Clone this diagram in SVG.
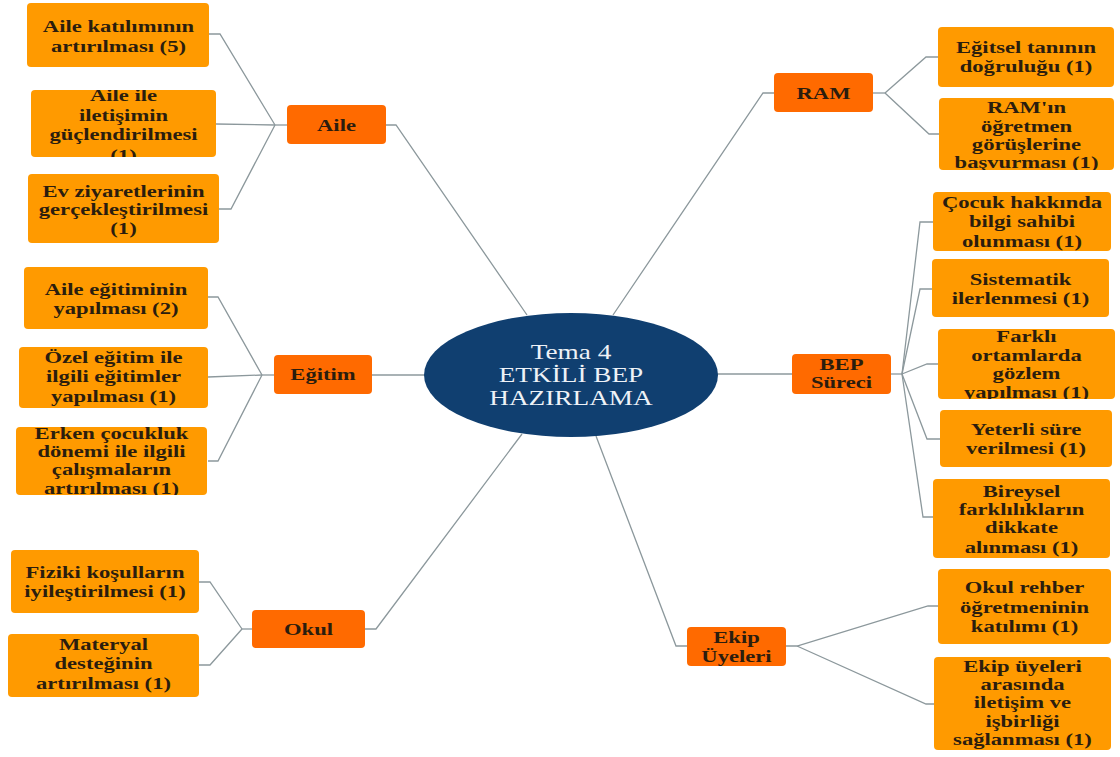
<svg xmlns="http://www.w3.org/2000/svg" width="1120" height="757" viewBox="0 0 1120 757">
<style>
.leaf{fill:#ff9a00}
.cat{fill:#ff6a00}
.t{font-family:"Liberation Serif","Times New Roman",serif;font-weight:bold;font-size:17px;fill:#2b1d0e;text-anchor:middle}
.c{font-family:"Liberation Serif","Times New Roman",serif;font-size:20.5px;fill:#eef2f7;text-anchor:middle}
.ln{fill:none;stroke:#8c989c;stroke-width:1.3}
</style>
<defs>
<clipPath id="cpA2"><rect x="31" y="90" width="185" height="67"/></clipPath>
<clipPath id="cpE3"><rect x="16" y="427" width="191" height="68"/></clipPath>
<clipPath id="cpB3"><rect x="938" y="329" width="177" height="70"/></clipPath>
<clipPath id="cpR2"><rect x="939" y="98" width="175" height="72"/></clipPath>
<clipPath id="cpK2"><rect x="934" y="657" width="177" height="93"/></clipPath>
</defs>
<rect width="1120" height="757" fill="#ffffff"/>
<g id="connectors" class="ln">
<path d="M209,34 H220 L275,125"/>
<path d="M216,124 L275,125"/>
<path d="M219,209 H231 L275,125"/>
<path d="M275,125 H287"/>
<path d="M386,125 H396 L527,315"/>
<path d="M208,297 H218 L262,375"/>
<path d="M208,377 L262,375"/>
<path d="M208,461 H218 L262,375"/>
<path d="M262,375 H274"/>
<path d="M372,375 H425"/>
<path d="M199,582 H210 L242,629"/>
<path d="M199,665 H210 L242,629"/>
<path d="M242,629 H252"/>
<path d="M365,629 H376 L522,434"/>
<path d="M938,57 H926 L885,93"/>
<path d="M939,134 H929 L885,93"/>
<path d="M873,93 H885"/>
<path d="M774,93 H763 L613,315"/>
<path d="M891,374 H902"/>
<path d="M902,374 L920,222 H933"/>
<path d="M902,374 L920,289 H932"/>
<path d="M902,374 L927,364 H938"/>
<path d="M902,374 L927,439 H940"/>
<path d="M902,374 L923,517 H933"/>
<path d="M792,374 H717"/>
<path d="M786,646 H797 L928,606 H938"/>
<path d="M797,646 L926,704 H934"/>
<path d="M687,646 H676 L596,436"/>
</g>
<g id="center">
<ellipse cx="571" cy="375" rx="147" ry="62" fill="#103f70"/>
<text class="c" transform="translate(571,0) scale(1.33,1)"><tspan x="0" y="359">Tema 4</tspan><tspan x="0" y="382">ETKİLİ BEP</tspan><tspan x="0" y="405">HAZIRLAMA</tspan></text>
</g>
<g id="aile">
<rect class="cat" x="287" y="105" width="99" height="39" rx="4"/>
<text class="t" transform="translate(336.5,0) scale(1.33,1)"><tspan x="0" y="131">Aile</tspan></text>
</g>
<g id="aile-1">
<rect class="leaf" x="27" y="3" width="182" height="64" rx="4"/>
<text class="t" transform="translate(118.5,0) scale(1.33,1)"><tspan x="0" y="32">Aile katılımının</tspan><tspan x="0" y="52">artırılması (5)</tspan></text>
</g>
<g id="aile-2">
<rect class="leaf" x="31" y="90" width="185" height="67" rx="4"/>
<g clip-path="url(#cpA2)"><text class="t" transform="translate(123.5,0) scale(1.33,1)"><tspan x="0" y="101">Aile ile</tspan><tspan x="0" y="121">iletişimin</tspan><tspan x="0" y="140">güçlendirilmesi</tspan><tspan x="0" y="161">(1)</tspan></text></g>
</g>
<g id="aile-3">
<rect class="leaf" x="28" y="174" width="191" height="69" rx="4"/>
<text class="t" transform="translate(123.5,0) scale(1.33,1)"><tspan x="0" y="197">Ev ziyaretlerinin</tspan><tspan x="0" y="215">gerçekleştirilmesi</tspan><tspan x="0" y="234">(1)</tspan></text>
</g>
<g id="egitim">
<rect class="cat" x="274" y="355" width="98" height="39" rx="4"/>
<text class="t" transform="translate(323,0) scale(1.33,1)"><tspan x="0" y="380">Eğitim</tspan></text>
</g>
<g id="egitim-1">
<rect class="leaf" x="24" y="267" width="184" height="62" rx="4"/>
<text class="t" transform="translate(116,0) scale(1.33,1)"><tspan x="0" y="295">Aile eğitiminin</tspan><tspan x="0" y="314">yapılması (2)</tspan></text>
</g>
<g id="egitim-2">
<rect class="leaf" x="19" y="347" width="189" height="61" rx="4"/>
<text class="t" transform="translate(113.5,0) scale(1.33,1)"><tspan x="0" y="363">Özel eğitim ile</tspan><tspan x="0" y="382">ilgili eğitimler</tspan><tspan x="0" y="402">yapılması (1)</tspan></text>
</g>
<g id="egitim-3">
<rect class="leaf" x="16" y="427" width="191" height="68" rx="4"/>
<g clip-path="url(#cpE3)"><text class="t" transform="translate(111.5,0) scale(1.33,1)"><tspan x="0" y="439">Erken çocukluk</tspan><tspan x="0" y="457">dönemi ile ilgili</tspan><tspan x="0" y="475">çalışmaların</tspan><tspan x="0" y="494">artırılması (1)</tspan></text></g>
</g>
<g id="okul">
<rect class="cat" x="252" y="610" width="113" height="38" rx="4"/>
<text class="t" transform="translate(308.5,0) scale(1.33,1)"><tspan x="0" y="635">Okul</tspan></text>
</g>
<g id="okul-1">
<rect class="leaf" x="11" y="550" width="188" height="63" rx="4"/>
<text class="t" transform="translate(105,0) scale(1.33,1)"><tspan x="0" y="578">Fiziki koşulların</tspan><tspan x="0" y="597">iyileştirilmesi (1)</tspan></text>
</g>
<g id="okul-2">
<rect class="leaf" x="8" y="634" width="191" height="63" rx="4"/>
<text class="t" transform="translate(103.5,0) scale(1.33,1)"><tspan x="0" y="650">Materyal</tspan><tspan x="0" y="669">desteğinin</tspan><tspan x="0" y="689">artırılması (1)</tspan></text>
</g>
<g id="ram">
<rect class="cat" x="774" y="73" width="99" height="39" rx="4"/>
<text class="t" transform="translate(823.5,0) scale(1.33,1)"><tspan x="0" y="99">RAM</tspan></text>
</g>
<g id="ram-1">
<rect class="leaf" x="938" y="27" width="176" height="60" rx="4"/>
<text class="t" transform="translate(1026,0) scale(1.33,1)"><tspan x="0" y="53">Eğitsel tanının</tspan><tspan x="0" y="72">doğruluğu (1)</tspan></text>
</g>
<g id="ram-2">
<rect class="leaf" x="939" y="98" width="175" height="72" rx="4"/>
<g clip-path="url(#cpR2)"><text class="t" transform="translate(1026.5,0) scale(1.33,1)"><tspan x="0" y="113">RAM'ın</tspan><tspan x="0" y="132">öğretmen</tspan><tspan x="0" y="150">görüşlerine</tspan><tspan x="0" y="168">başvurması (1)</tspan></text></g>
</g>
<g id="bep">
<rect class="cat" x="792" y="354" width="99" height="40" rx="4"/>
<text class="t" transform="translate(841.5,0) scale(1.33,1)"><tspan x="0" y="370">BEP</tspan><tspan x="0" y="388">Süreci</tspan></text>
</g>
<g id="bep-1">
<rect class="leaf" x="933" y="192" width="178" height="59" rx="4"/>
<text class="t" transform="translate(1022,0) scale(1.33,1)"><tspan x="0" y="208">Çocuk hakkında</tspan><tspan x="0" y="227">bilgi sahibi</tspan><tspan x="0" y="247">olunması (1)</tspan></text>
</g>
<g id="bep-2">
<rect class="leaf" x="932" y="259" width="177" height="58" rx="4"/>
<text class="t" transform="translate(1020.5,0) scale(1.33,1)"><tspan x="0" y="285">Sistematik</tspan><tspan x="0" y="304">ilerlenmesi (1)</tspan></text>
</g>
<g id="bep-3">
<rect class="leaf" x="938" y="329" width="177" height="70" rx="4"/>
<g clip-path="url(#cpB3)"><text class="t" transform="translate(1026.5,0) scale(1.33,1)"><tspan x="0" y="342">Farklı</tspan><tspan x="0" y="361">ortamlarda</tspan><tspan x="0" y="379">gözlem</tspan><tspan x="0" y="398">yapılması (1)</tspan></text></g>
</g>
<g id="bep-4">
<rect class="leaf" x="940" y="410" width="172" height="57" rx="4"/>
<text class="t" transform="translate(1026,0) scale(1.33,1)"><tspan x="0" y="435">Yeterli süre</tspan><tspan x="0" y="454">verilmesi (1)</tspan></text>
</g>
<g id="bep-5">
<rect class="leaf" x="933" y="479" width="177" height="79" rx="4"/>
<text class="t" transform="translate(1021.5,0) scale(1.33,1)"><tspan x="0" y="497">Bireysel</tspan><tspan x="0" y="515">farklılıkların</tspan><tspan x="0" y="533">dikkate</tspan><tspan x="0" y="553">alınması (1)</tspan></text>
</g>
<g id="ekip">
<rect class="cat" x="687" y="627" width="99" height="39" rx="4"/>
<text class="t" transform="translate(736.5,0) scale(1.33,1)"><tspan x="0" y="643">Ekip</tspan><tspan x="0" y="662">Üyeleri</tspan></text>
</g>
<g id="ekip-1">
<rect class="leaf" x="938" y="569" width="173" height="75" rx="4"/>
<text class="t" transform="translate(1024.5,0) scale(1.33,1)"><tspan x="0" y="593">Okul rehber</tspan><tspan x="0" y="613">öğretmeninin</tspan><tspan x="0" y="632">katılımı (1)</tspan></text>
</g>
<g id="ekip-2">
<rect class="leaf" x="934" y="657" width="177" height="93" rx="4"/>
<g clip-path="url(#cpK2)"><text class="t" transform="translate(1022.5,0) scale(1.33,1)"><tspan x="0" y="672">Ekip üyeleri</tspan><tspan x="0" y="690">arasında</tspan><tspan x="0" y="708">iletişim ve</tspan><tspan x="0" y="727">işbirliği</tspan><tspan x="0" y="745">sağlanması (1)</tspan></text></g>
</g>
</svg>
